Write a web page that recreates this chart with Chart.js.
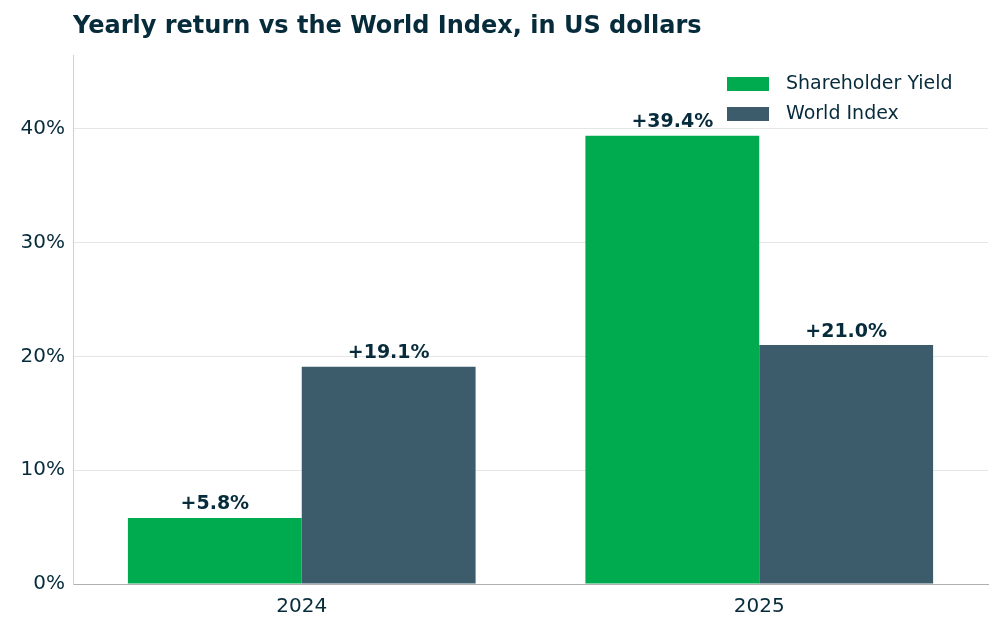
<!DOCTYPE html>
<html><head><meta charset="utf-8">
<script src="https://cdn.jsdelivr.net/npm/chart.js@4"></script>
<style>body{margin:0;background:#fff}#wrap{width:1002px;height:628px}</style>
</head><body><div id="wrap"><canvas id="c"></canvas></div>
<script>
const years = ['2024', '2025'];
const shareholderYield = [5.8, 39.4];
const worldIndex = [19.1, 21.0];
const seriesNames = ['Shareholder Yield', 'World Index'];
const seriesColors = ['#00aa4f', '#3d5c6b'];
const ink = '#062b3b';
const font = "'DejaVu Sans', sans-serif";

const extras = {
  id: 'extras',
  afterDraw(chart) {
    const ctx = chart.ctx;
    ctx.save();
    ctx.fillStyle = ink;
    ctx.font = 'bold 24px ' + font;
    ctx.textAlign = 'left';
    ctx.textBaseline = 'middle';
    ctx.fillText('Yearly return vs the World Index, in US dollars', chart.chartArea.left, 27);
    // value labels
    ctx.font = 'bold 19px ' + font;
    ctx.textAlign = 'center';
    ctx.textBaseline = 'bottom';
    chart.data.datasets.forEach((ds, i) => {
      chart.getDatasetMeta(i).data.forEach((bar, j) => {
        ctx.fillText('+' + ds.data[j].toFixed(1) + '%', bar.x, bar.y - 4);
      });
    });
    // legend
    ctx.font = '19px ' + font;
    ctx.textAlign = 'left';
    ctx.textBaseline = 'middle';
    seriesNames.forEach((n, i) => {
      const y = 84 + i * 30;
      ctx.fillStyle = seriesColors[i];
      ctx.fillRect(727, y - 7, 42, 14);
      ctx.fillStyle = ink;
      ctx.fillText(n, 786, y);
    });
    ctx.restore();
  }
};

new Chart(document.getElementById('c'), {
  type: 'bar',
  data: {
    labels: years,
    datasets: [
      { label: seriesNames[0], data: shareholderYield, backgroundColor: seriesColors[0] },
      { label: seriesNames[1], data: worldIndex, backgroundColor: seriesColors[1] }
    ]
  },
  options: {
    responsive: true,
    maintainAspectRatio: false,
    animation: false,
    layout: { padding: { top: 55, right: 14, left: 0, bottom: 6 } },
    datasets: { bar: { barPercentage: 1, categoryPercentage: 0.76 } },
    plugins: { legend: { display: false }, tooltip: { enabled: false } },
    scales: {
      x: {
        grid: { display: false },
        border: { color: '#b0b0b0' },
        ticks: { color: ink, font: { family: font, size: 20 } }
      },
      y: {
        min: 0, max: 46.5,
        afterFit(s) { s.width = 73; },
        afterBuildTicks(s) { s.ticks = [0, 10, 20, 30, 40].map(v => ({ value: v })); },
        grid: { color: '#e6e6e6', drawTicks: false },
        border: { color: '#d0d0d0' },
        ticks: { color: ink, padding: 8, font: { family: font, size: 20 }, callback: v => v + '%' }
      }
    }
  },
  plugins: [extras]
});
</script></body></html>
